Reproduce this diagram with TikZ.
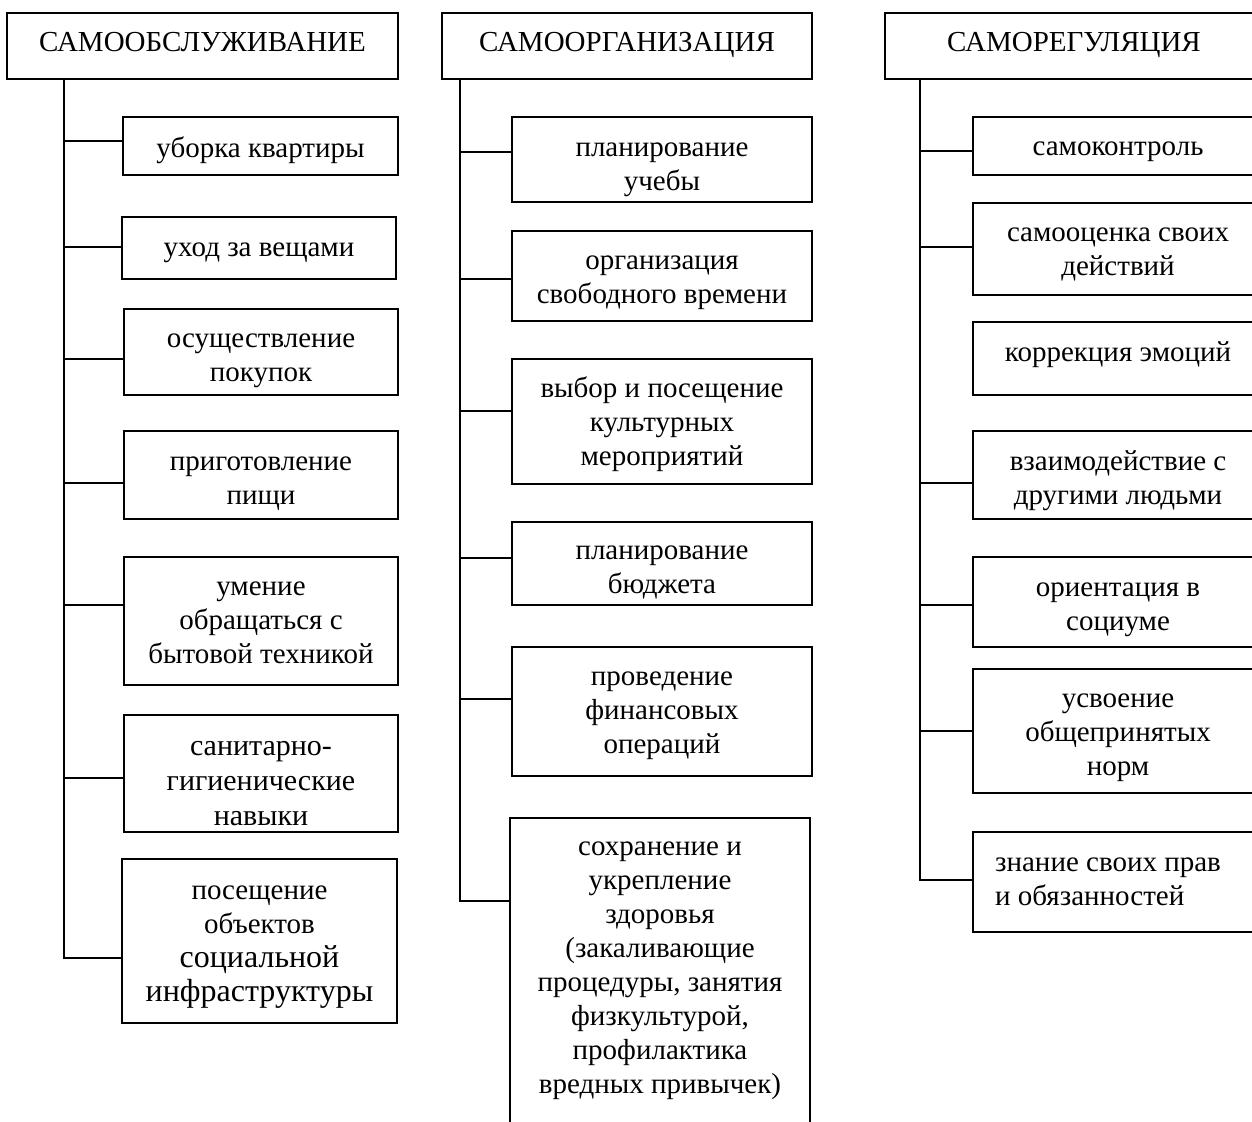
\documentclass[tikz,border=0pt]{standalone}
\usepackage{fontspec}
\setmainfont{Liberation Serif}
\begin{document}
\begin{tikzpicture}[x=1pt,y=-1pt,
  box/.style={draw, line width=1.6pt, inner sep=0pt},
  hdr/.style={box, align=center, text depth=8pt, font=\fontsize{29}{34}\selectfont},
  txt/.style={align=center, inner sep=0pt, font=\fontsize{29}{34}\selectfont},
  conn/.style={line width=1.6pt}]
\clip (0,0) rectangle (1252,1121);
\fill[white] (0,0) rectangle (1252,1121);
% ---------- column A ----------
\node[hdr, minimum width=391, minimum height=66] (hA) at (202.5,46) {САМООБСЛУЖИВАНИЕ};
\node[box, minimum width=275, minimum height=58] (b1) at (260.5,146) {};
\node[box, minimum width=274, minimum height=62] (b2) at (259,248) {};
\node[box, minimum width=274, minimum height=86] (b3) at (261,352) {};
\node[box, minimum width=274, minimum height=88] (b4) at (261,475) {};
\node[box, minimum width=274, minimum height=128] (b5) at (261,621) {};
\node[box, minimum width=274, minimum height=117] (b6) at (261,773.5) {};
\node[box, minimum width=275, minimum height=164] (b7) at (259.5,941) {};
\node[txt] (b1t) at (260.5,150) {уборка квартиры};
\node[txt] (b2t) at (259,253) {уход за вещами};
\node[txt] (b3t) at (261,361) {осуществление\\покупок};
\node[txt] (b4t) at (261,484) {приготовление\\пищи};
\node[txt] (b5t) at (261,623) {умение\\обращаться с\\бытовой техникой};
\node[txt, font=\fontsize{30}{35}\selectfont] (b6t) at (261,783.5) {санитарно-\\гигиенические\\навыки};
\node[txt] (b7t) at (259.5,947) {посещение\\объектов\\\fontsize{32}{36}\selectfont социальной\\\fontsize{32}{36}\selectfont инфраструктуры};
\coordinate (a1) at (64,141);
\coordinate (a2) at (64,247);
\coordinate (a3) at (64,359);
\coordinate (a4) at (64,483);
\coordinate (a5) at (64,605);
\coordinate (a6) at (64,778);
\coordinate (a7) at (64,958);
\draw[conn] (hA.south -| a1) -- (a7) -- (a7 -| b7.west);
\foreach \i in {1,...,6}{\draw[conn] (a\i) -- (a\i -| b\i.west);}
% ---------- column B ----------
\node[hdr, minimum width=370, minimum height=66] (hB) at (627,46) {САМООРГАНИЗАЦИЯ};
\node[box, minimum width=300, minimum height=85] (c1) at (662,159.5) {};
\node[box, minimum width=300, minimum height=90] (c2) at (662,276) {};
\node[box, minimum width=300, minimum height=125] (c3) at (662,421.5) {};
\node[box, minimum width=300, minimum height=83] (c4) at (662,563.5) {};
\node[box, minimum width=300, minimum height=129] (c5) at (662,711.5) {};
\node[box, minimum width=300, minimum height=332] (c6) at (660,984) {};
\node[txt] (c1t) at (662,169.5) {планирование\\учебы};
\node[txt] (c2t) at (662,283) {организация\\свободного времени};
\node[txt] (c3t) at (662,424.5) {выбор и посещение\\культурных\\мероприятий};
\node[txt] (c4t) at (662,572.5) {планирование\\бюджета};
\node[txt] (c5t) at (662,715.5) {проведение\\финансовых\\операций};
\node[txt] (c6t) at (660,971) {сохранение и\\укрепление\\здоровья\\(закаливающие\\процедуры, занятия\\физкультурой,\\профилактика\\вредных привычек)};
\coordinate (e1) at (460,152);
\coordinate (e2) at (460,279);
\coordinate (e3) at (460,411);
\coordinate (e4) at (460,558);
\coordinate (e5) at (460,699);
\coordinate (e6) at (460,901);
\draw[conn] (hB.south -| e1) -- (e6) -- (e6 -| c6.west);
\foreach \i in {1,...,5}{\draw[conn] (e\i) -- (e\i -| c\i.west);}
% ---------- column C ----------
\node[hdr, minimum width=378, minimum height=66] (hC) at (1074,46) {САМОРЕГУЛЯЦИЯ};
\node[box, minimum width=290, minimum height=58] (d1) at (1118,146) {};
\node[box, minimum width=290, minimum height=92] (d2) at (1118,249) {};
\node[box, minimum width=290, minimum height=73] (d3) at (1118,358.5) {};
\node[box, minimum width=290, minimum height=88] (d4) at (1118,475) {};
\node[box, minimum width=290, minimum height=90] (d5) at (1118,602) {};
\node[box, minimum width=290, minimum height=124] (d6) at (1118,731) {};
\node[box, minimum width=290, minimum height=100] (d7) at (1118,882) {};
\node[txt] (d1t) at (1118,152) {самоконтроль};
\node[txt] (d2t) at (1118,254) {самооценка своих\\действий};
\node[txt] (d3t) at (1118,354.5) {коррекция эмоций};
\node[txt] (d4t) at (1118,481) {взаимодействие с\\другими людьми};
\node[txt] (d5t) at (1118,610) {ориентация в\\социуме};
\node[txt] (d6t) at (1118,738) {усвоение\\общепринятых\\норм};
\node[txt, align=left] (d7t) at (1108,882) {знание своих прав\\и обязанностей};
\coordinate (f1) at (920,151);
\coordinate (f2) at (920,247);
\coordinate (f4) at (920,483);
\coordinate (f5) at (920,605);
\coordinate (f6) at (920,731);
\coordinate (f7) at (920,880);
\draw[conn] (hC.south -| f1) -- (f7) -- (f7 -| d7.west);
\foreach \i in {1,2,4,5,6}{\draw[conn] (f\i) -- (f\i -| d\i.west);}
\end{tikzpicture}
\end{document}
